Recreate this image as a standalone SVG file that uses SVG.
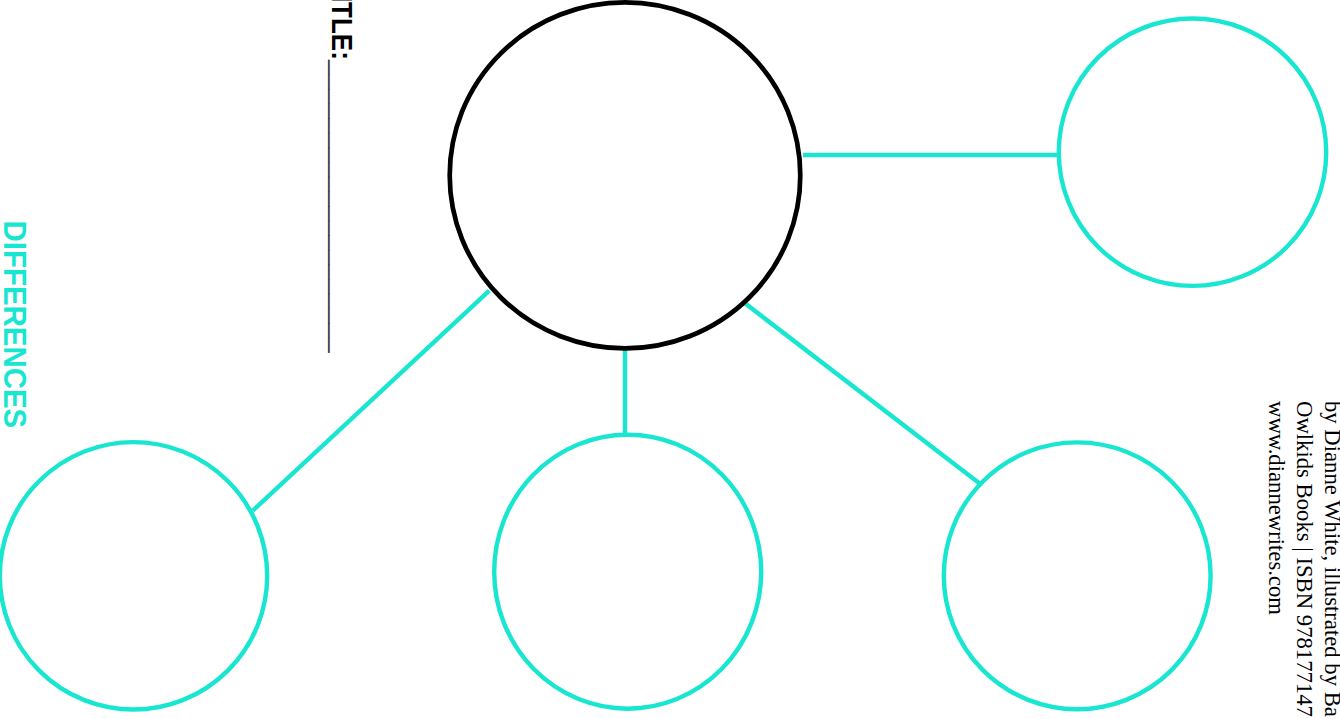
<svg xmlns="http://www.w3.org/2000/svg" width="1340" height="719" viewBox="0 0 1340 719">
<style>
.teal{fill:none;stroke:#19E6D0;stroke-width:4.4}
.main{fill:none;stroke:#000;stroke-width:4.7}
.conn{stroke:#19E6D0;stroke-width:4.4;fill:none}
.sans{font-family:"Liberation Sans",Arial,sans-serif}
.serif{font-family:"Liberation Serif","Times New Roman",serif;font-size:22.7px;fill:#000}
</style>
<rect width="1340" height="719" fill="#fff"/>
<g id="connectors">
<line class="conn" x1="803" y1="155" x2="1058" y2="155"/>
<line class="conn" x1="489.3" y1="290.7" x2="252.7" y2="510.7"/>
<line class="conn" x1="625" y1="350" x2="625" y2="433"/>
<line class="conn" x1="745" y1="303.3" x2="979.3" y2="483.3"/>
</g>
<g id="center"><ellipse class="main" cx="625" cy="175.4" rx="175.3" ry="173"/></g>
<g id="topright"><circle class="teal" cx="1192.5" cy="152.2" r="133.7"/></g>
<g id="bottomleft"><circle class="teal" cx="133.5" cy="575.8" r="133.7"/></g>
<g id="bottommid"><ellipse class="teal" cx="627.7" cy="571.7" rx="133.5" ry="137"/></g>
<g id="bottomright"><circle class="teal" cx="1077.2" cy="575.8" r="133.4"/></g>
<g id="title">
<text class="sans" font-size="30" font-weight="bold" fill="#000" transform="translate(332,-21) rotate(90) scale(0.867,1)">TITLE:</text>
<text class="sans" font-size="26.3" fill="#333" transform="translate(333,60) rotate(90)">____________________</text>
</g>
<g id="differences">
<text class="sans" font-size="30.5" font-weight="bold" fill="#19E6D0" transform="translate(3.5,220.5) rotate(90) scale(0.965,1)">DIFFERENCES</text>
</g>
<g id="credits">
<text class="serif" transform="translate(1325,401) rotate(90)">by Dianne White, illustrated by Ba</text>
<text class="serif" transform="translate(1297,401) rotate(90)">Owlkids Books | ISBN 978177147</text>
<text class="serif" transform="translate(1269,401) rotate(90)">www.diannewrites.com</text>
</g>
</svg>
